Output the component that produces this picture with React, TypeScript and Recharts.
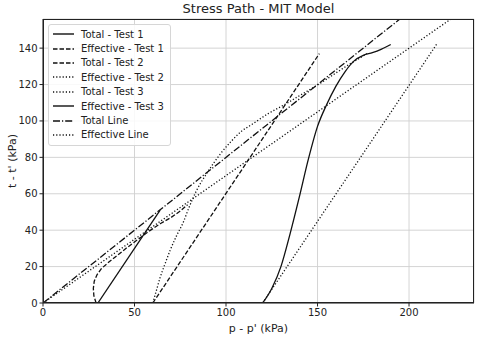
import { CartesianGrid, Line, LineChart, XAxis, YAxis } from 'recharts'

// p (kPa) and t (kPa)
const total1P = [30, 64]
const total1T = [0, 51]
const eff1P = [29, 27.8, 27.5, 28, 29.5, 32, 36, 41, 46, 52, 58, 64, 70, 75, 79]
const eff1T = [0, 4, 8, 12, 15.5, 19, 22.5, 26.5, 30.5, 35, 39.5, 43.5, 47, 50.5, 54]
const total2P = [60, 151]
const total2T = [0, 137]
const eff2P = [60, 62, 64, 66.5, 69.5, 73, 76.5, 80, 84, 90, 97, 103, 108, 114, 123, 132, 142, 152, 161, 168, 173, 177]
const eff2T = [0, 7, 14, 21, 29, 37, 44, 53, 62, 72, 82, 89, 94, 98, 104, 109, 115, 121, 127, 131.5, 134.5, 137]
const total3P = [120, 215]
const total3T = [0, 142]
const eff3P = [120, 125, 130, 135, 140, 145, 150, 155, 160, 165, 170, 175, 180, 185, 190]
const eff3T = [0, 8, 20, 38, 58, 79, 97, 109, 119, 127, 133, 136, 137.5, 139.5, 142]
const totalLineP = [0, 195]
const totalLineT = [0, 156]
const effLineP = [0, 222.9]
const effLineT = [0, 156]

const xTicks = [0, 50, 100, 150, 200]
const yTicks = [0, 20, 40, 60, 80, 100, 120, 140]

const zip = (p: number[], t: number[]) => p.map((v, i) => ({ p: v, t: t[i] }))

const SOLID = undefined
const DASHED = '4.5 2'
const DOTTED = '1.2 2'
const DASHDOT = '7 2 1.2 2'

const series = [
  { name: 'Total - Test 1', data: zip(total1P, total1T), dash: SOLID, curve: 'linear' },
  { name: 'Effective - Test 1', data: zip(eff1P, eff1T), dash: DASHED, curve: 'linear' },
  { name: 'Total - Test 2', data: zip(total2P, total2T), dash: DASHED, curve: 'linear' },
  { name: 'Effective - Test 2', data: zip(eff2P, eff2T), dash: DOTTED, curve: 'monotoneX' },
  { name: 'Total - Test 3', data: zip(total3P, total3T), dash: DOTTED, curve: 'linear' },
  { name: 'Effective - Test 3', data: zip(eff3P, eff3T), dash: SOLID, curve: 'monotoneX' },
  { name: 'Total Line', data: zip(totalLineP, totalLineT), dash: DASHDOT, curve: 'linear' },
  { name: 'Effective Line', data: zip(effLineP, effLineT), dash: DOTTED, curve: 'linear' }
]

const FONT = '"DejaVu Sans", sans-serif'
const INK = '#111'

function LegendBox() {
  return (
    <div
      style={{
        position: 'absolute',
        left: 48,
        top: 24,
        background: 'rgba(255,255,255,0.85)',
        border: '1px solid #d6d6d6',
        borderRadius: 3,
        padding: '2px 6px 3px 3px',
        fontFamily: FONT,
        fontSize: 10,
        color: '#222'
      }}
    >
      {series.map((s) => (
        <div key={s.name} style={{ display: 'flex', alignItems: 'center', height: 14.4 }}>
          <svg width={24} height={6} style={{ marginRight: 5 }}>
            <line x1={1} y1={3} x2={22} y2={3} stroke={INK} strokeWidth={1.4} strokeDasharray={s.dash} />
          </svg>
          <span>{s.name}</span>
        </div>
      ))}
    </div>
  )
}

export default function App() {
  return (
    <div style={{ position: 'absolute', left: 0, top: 0, width: 480, height: 342, background: '#fff' }}>
      <div
        style={{
          position: 'absolute',
          left: 43,
          width: 431,
          top: 1,
          textAlign: 'center',
          fontFamily: FONT,
          fontSize: 13,
          color: '#222'
        }}
      >
        Stress Path - MIT Model
      </div>
      <LineChart width={480} height={342} margin={{ top: 19, right: 6, left: 0, bottom: 0 }}>
        <CartesianGrid stroke="#cfcfcf" strokeWidth={0.9} />
        <XAxis
          type="number"
          dataKey="p"
          domain={[0, 235.5]}
          ticks={xTicks}
          allowDataOverflow
          height={39}
          stroke="#222"
          tickSize={3.5}
          tick={{ fill: '#222', fontSize: 10, fontFamily: FONT }}
          label={({ viewBox }: any) => (
            <text
              x={viewBox.x + viewBox.width / 2}
              y={viewBox.y + 29}
              textAnchor="middle"
              fontSize={11}
              fontFamily={FONT}
              fill="#222"
            >
              p - p' (kPa)
            </text>
          )}
        />
        <YAxis
          type="number"
          dataKey="t"
          domain={[0, 156]}
          ticks={yTicks}
          allowDataOverflow
          width={43}
          stroke="#222"
          tickSize={3.5}
          tick={{ fill: '#222', fontSize: 10, fontFamily: FONT }}
          label={({ viewBox }: any) => {
            const cx = 12
            const cy = viewBox.y + viewBox.height / 2
            return (
              <text
                x={cx}
                y={cy}
                transform={`rotate(-90 ${cx} ${cy})`}
                textAnchor="middle"
                dominantBaseline="central"
                fontSize={11}
                fontFamily={FONT}
                fill="#222"
              >
                t - t' (kPa)
              </text>
            )
          }}
        />
        {series.map((s) => (
          <Line
            key={s.name}
            data={s.data}
            dataKey="t"
            name={s.name}
            type={s.curve as any}
            stroke={INK}
            strokeWidth={1.3}
            strokeDasharray={s.dash}
            dot={false}
            activeDot={false}
            isAnimationActive={false}
          />
        ))}
      </LineChart>
      <LegendBox />
      <div
        style={{
          position: 'absolute',
          left: 43,
          top: 19,
          width: 431,
          height: 284,
          border: '1px solid #222',
          boxSizing: 'border-box',
          pointerEvents: 'none'
        }}
      />
    </div>
  )
}
